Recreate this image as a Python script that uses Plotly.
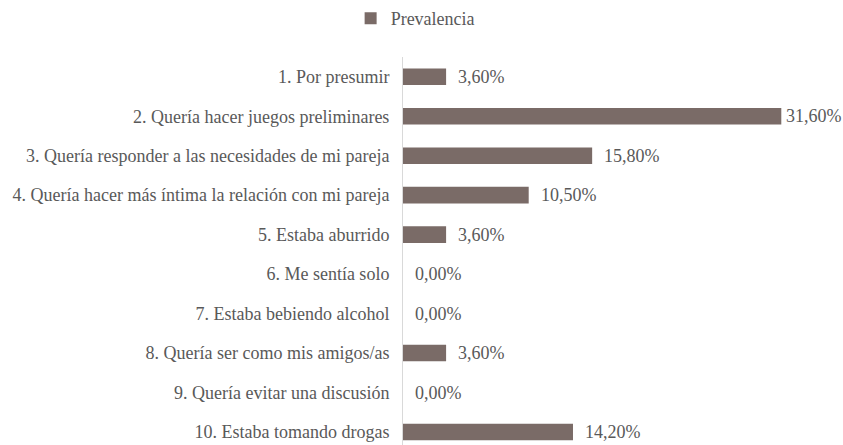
import plotly.graph_objects as go

categories = [
    "1. Por presumir",
    "2. Quería hacer juegos preliminares",
    "3. Quería responder a las necesidades de mi pareja",
    "4. Quería hacer más íntima la relación con mi pareja",
    "5. Estaba aburrido",
    "6. Me sentía solo",
    "7. Estaba bebiendo alcohol",
    "8. Quería ser como mis amigos/as",
    "9. Quería evitar una discusión",
    "10. Estaba tomando drogas",
]
values = [3.6, 31.6, 15.8, 10.5, 3.6, 0.0, 0.0, 3.6, 0.0, 14.2]
labels = [f"{v:.2f}%".replace(".", ",") for v in values]

BAR = "#7a6b67"
TXT = "#595959"
FONT = "Liberation Serif"
FS = 18

fig = go.Figure()
fig.add_trace(go.Bar(
    y=categories, x=values, orientation="h", name="Prevalencia",
    marker=dict(color=BAR, line=dict(width=0)), width=0.42,
))

for c, v, t in zip(categories, values, labels):
    fig.add_annotation(x=v, y=c, xref="x", yref="y", text=t, showarrow=False,
                       xanchor="left", yanchor="middle",
                       xshift=3 if v == max(values) else 10,
                       font=dict(family=FONT, size=FS, color=TXT))

fig.update_layout(
    width=843, height=445,
    margin=dict(l=403, r=21, t=57, b=0),
    paper_bgcolor="white", plot_bgcolor="white",
    showlegend=True,
    legend=dict(orientation="h", x=-0.125, xanchor="left", y=1.0, yanchor="top",
                yref="container", font=dict(family=FONT, size=FS, color=TXT),
                itemwidth=30),
)
fig.update_xaxes(range=[0, 35], visible=False, showgrid=False, zeroline=False)
fig.update_yaxes(categoryorder="array", categoryarray=categories,
                 range=[9.33, -0.5], showline=True, linecolor="#d9d9d9", linewidth=1,
                 showgrid=False, ticks="", ticklabelstandoff=9,
                 tickfont=dict(family=FONT, size=FS, color=TXT))

fig.write_html("out.html")
